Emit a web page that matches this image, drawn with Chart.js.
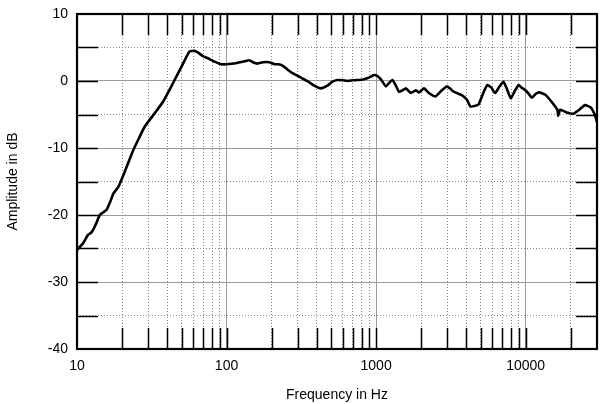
<!DOCTYPE html>
<html>
<head>
<meta charset="utf-8">
<script src="https://cdn.jsdelivr.net/npm/chart.js@4"></script>
<style>
html,body{margin:0;padding:0;background:#fff;}
canvas{display:block;}
</style>
</head>
<body>
<canvas id="c" width="600" height="404"></canvas>
<script>
const freqHz = [10, 11, 11.8, 12.5, 13.3, 14.2, 15, 15.8, 16.7, 17.5, 18.9, 20.9, 23.8, 26, 28.4, 33.1, 37.6, 43.9, 49.9, 56.5, 61, 65, 69.5, 75, 83.2, 92.2, 100, 113, 122, 135, 142, 150, 161, 175, 193, 209, 222, 237, 250, 263, 280, 298, 320, 346, 386, 427, 472, 510, 551, 600, 642, 700, 748, 810, 871, 930, 970, 1020, 1080, 1163, 1220, 1285, 1350, 1420, 1500, 1583, 1650, 1705, 1843, 1940, 2090, 2250, 2490, 2690, 2980, 3150, 3300, 3740, 4050, 4270, 4610, 4850, 5250, 5550, 5900, 6250, 6700, 7100, 7500, 7960, 8500, 8990, 9400, 9870, 10400, 11000, 11700, 12400, 13600, 14900, 16300, 16500, 17000, 18000, 18800, 20800, 22500, 24900, 27400, 29300, 30000];
const levelDb = [-25.2, -24.2, -23.0, -22.6, -21.5, -20.0, -19.6, -19.2, -18.0, -16.8, -15.8, -13.5, -10.3, -8.5, -6.8, -4.8, -3.1, -0.3, 2.1, 4.4, 4.5, 4.2, 3.7, 3.4, 2.9, 2.5, 2.5, 2.6, 2.8, 3.0, 3.1, 2.8, 2.6, 2.8, 2.8, 2.5, 2.5, 2.3, 1.9, 1.5, 1.1, 0.8, 0.4, 0.0, -0.7, -1.1, -0.7, -0.1, 0.15, 0.1, 0.0, 0.1, 0.15, 0.2, 0.4, 0.7, 0.9, 0.75, 0.2, -0.8, -0.3, 0.15, -0.6, -1.6, -1.4, -1.1, -1.5, -1.8, -1.4, -1.7, -1.1, -1.8, -2.3, -1.6, -0.8, -1.2, -1.6, -2.1, -2.8, -3.8, -3.7, -3.5, -1.6, -0.6, -1.0, -1.8, -0.8, -0.1, -1.2, -2.6, -1.4, -0.6, -1.0, -1.3, -1.8, -2.5, -1.9, -1.7, -2.1, -3.1, -4.3, -5.2, -4.3, -4.5, -4.7, -4.9, -4.4, -3.6, -4.0, -5.3, -6.2];
const xGridValues = [10, 20, 30, 40, 50, 60, 70, 80, 90, 100, 200, 300, 400, 500, 600, 700, 800, 900, 1000, 2000, 3000, 4000, 5000, 6000, 7000, 8000, 9000, 10000, 20000];
const xLabelValues = [10, 100, 1000, 10000];
const yGridValues = [-40, -35, -30, -25, -20, -15, -10, -5, 0, 5, 10];
const yLabelValues = [-40, -30, -20, -10, 0, 10];
const xMin = 10, xMax = 30000, yMin = -40, yMax = 10;

const FONT = "'Liberation Sans', Arial, sans-serif";

const framePlugin = {
  id: 'frame',
  afterDatasetsDraw(chart) {
    const {ctx, chartArea: a, scales} = chart;
    const xs = scales.x, ys = scales.y;
    ctx.save();
    ctx.strokeStyle = '#000';
    ctx.lineWidth = 1.5;
    const tl = 21;
    ctx.beginPath();
    xGridValues.forEach(v => {
      if (v <= xMin || v >= xMax) return;
      const px = Math.round(xs.getPixelForValue(v)) + 0.5;
      ctx.moveTo(px, a.top); ctx.lineTo(px, a.top + tl);
      ctx.moveTo(px, a.bottom); ctx.lineTo(px, a.bottom - tl);
    });
    yGridValues.forEach(v => {
      if (v <= yMin || v >= yMax) return;
      const py = Math.round(ys.getPixelForValue(v)) + 0.5;
      ctx.moveTo(a.left, py); ctx.lineTo(a.left + tl, py);
      ctx.moveTo(a.right, py); ctx.lineTo(a.right - tl, py);
    });
    ctx.stroke();
    ctx.lineWidth = 2.2;
    ctx.strokeRect(a.left, a.top, a.right - a.left, a.bottom - a.top);
    ctx.restore();
  }
};

new Chart(document.getElementById('c'), {
  type: 'line',
  data: {
    datasets: [{
      data: freqHz.map((f, i) => ({x: f, y: levelDb[i]})),
      borderColor: '#000',
      borderWidth: 2.6,
      pointRadius: 0,
      tension: 0.15,
      fill: false
    }]
  },
  options: {
    responsive: false,
    animation: false,
    devicePixelRatio: 1,
    layout: {padding: {left: 0, right: 3, top: 14, bottom: 0}},
    plugins: {legend: {display: false}, tooltip: {enabled: false}},
    scales: {
      x: {
        type: 'logarithmic',
        min: xMin, max: xMax,
        afterBuildTicks(scale) { scale.ticks = xGridValues.map(v => ({value: v})); },
        afterFit(scale) { scale.height = 55; scale.paddingLeft = 0; scale.paddingRight = 0; },
        ticks: {
          autoSkip: false, maxRotation: 0, padding: 9, color: '#000',
          font: {family: FONT, size: 14},
          callback: v => xLabelValues.includes(v) ? String(v) : ''
        },
        grid: {
          drawTicks: false,
          lineWidth: 1,
          color: c => (c.tick && xLabelValues.includes(c.tick.value)) ? '#9a9a9a' : '#8a8a8a'
        },
        border: {
          display: false,
          dash: c => (c.tick && xLabelValues.includes(c.tick.value)) ? [] : [1, 2]
        },
        title: {display: true, text: 'Frequency in Hz', color: '#000', font: {family: FONT, size: 14}, padding: {top: 0, bottom: 0}}
      },
      y: {
        type: 'linear',
        min: yMin, max: yMax,
        afterBuildTicks(scale) { scale.ticks = yGridValues.map(v => ({value: v})); },
        afterFit(scale) { scale.width = 77; scale.paddingTop = 0; scale.paddingBottom = 0; },
        ticks: {
          autoSkip: false, padding: 9, color: '#000',
          font: {family: FONT, size: 14},
          callback: v => yLabelValues.includes(v) ? String(v) : ''
        },
        grid: {
          drawTicks: false,
          lineWidth: 1,
          color: c => (c.tick && yLabelValues.includes(c.tick.value)) ? '#9a9a9a' : '#8a8a8a'
        },
        border: {
          display: false,
          dash: c => (c.tick && yLabelValues.includes(c.tick.value)) ? [] : [1, 2]
        },
        title: {display: true, text: 'Amplitude in dB', color: '#000', font: {family: FONT, size: 14}, padding: {top: 5, bottom: 0}}
      }
    }
  },
  plugins: [framePlugin]
});
</script>
</body>
</html>
